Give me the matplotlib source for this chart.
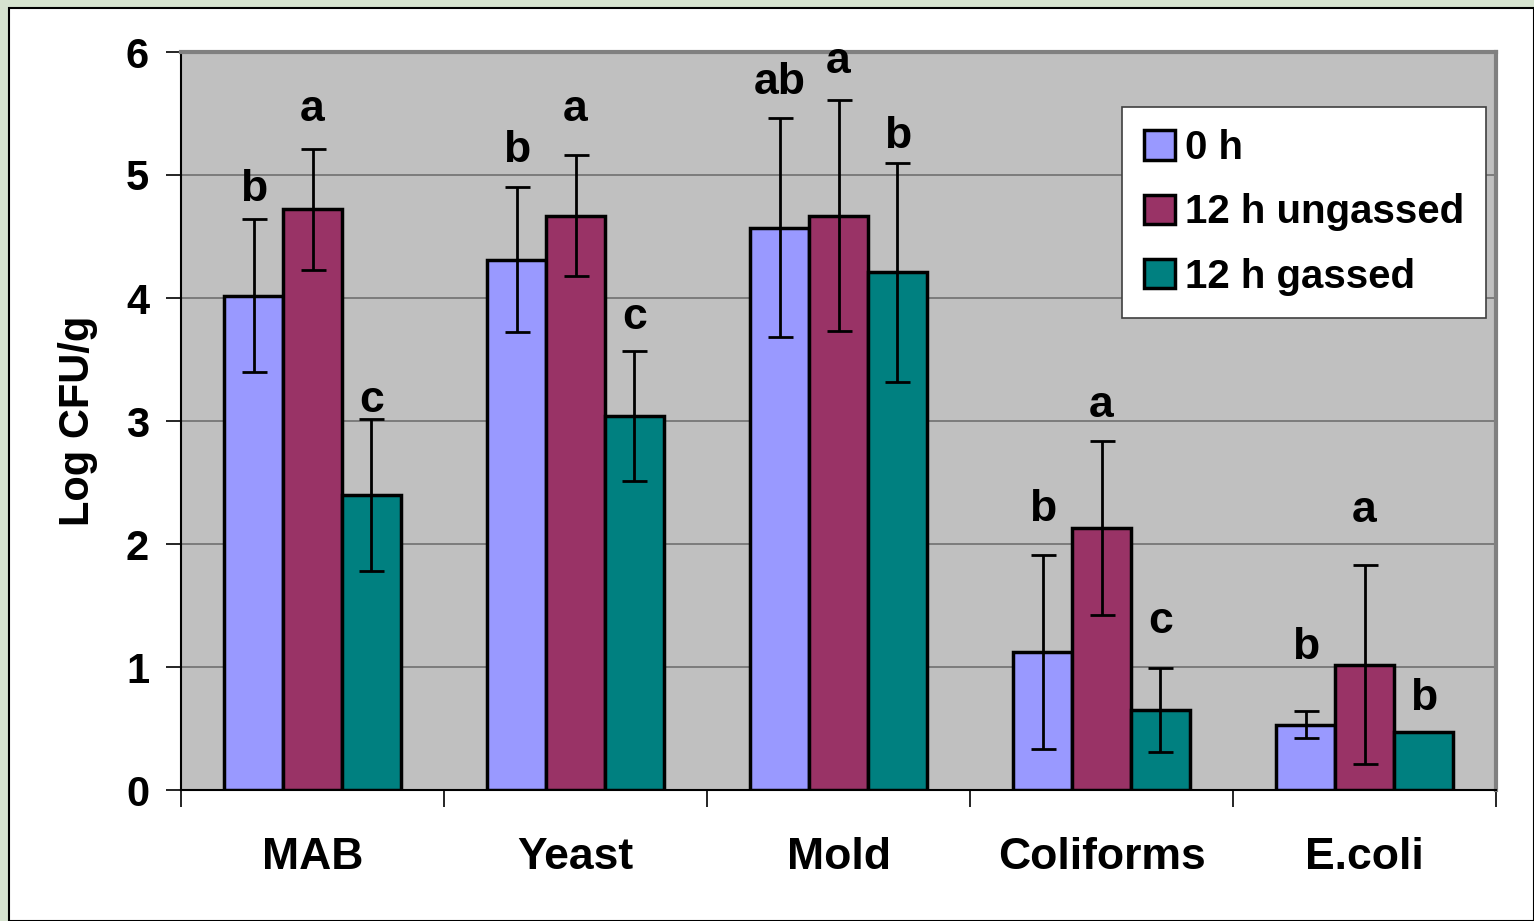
import numpy as np
import matplotlib.pyplot as plt
from matplotlib.patches import Rectangle

# dados
categorias = ['MAB', 'Yeast', 'Mold', 'Coliforms', 'E.coli']
series = ['0 h', '12 h ungassed', '12 h gassed']

media_0h = [4.02, 4.31, 4.57, 1.12, 0.53]
media_ung = [4.72, 4.67, 4.67, 2.13, 1.02]
media_gas = [2.40, 3.04, 4.21, 0.65, 0.47]

erro_0h = [0.62, 0.59, 0.89, 0.79, 0.11]
erro_ung = [0.49, 0.49, 0.94, 0.71, 0.81]
erro_gas = [0.62, 0.53, 0.89, 0.34, 0.0]

letras_0h = ['b', 'b', 'ab', 'b', 'b']
letras_ung = ['a', 'a', 'a', 'a', 'a']
letras_gas = ['c', 'c', 'b', 'c', 'b']

# altura das letras
ylet_0h = [4.88, 5.20, 5.75, 2.28, 1.16]
ylet_ung = [5.53, 5.53, 5.92, 3.13, 2.27]
ylet_gas = [3.17, 3.84, 5.31, 1.37, 0.74]

cores = ['#9999FF', '#993366', '#008080']

plt.rcParams['font.family'] = ['Liberation Sans', 'DejaVu Sans']
plt.rcParams['font.weight'] = 'bold'

fig = plt.figure(figsize=(15.34, 9.21), dpi=100, facecolor='#d6e3cf')
# caixa branca do slide
fig.patches.append(Rectangle((9 / 1534, 0), 1 - 9 / 1534, 1 - 8 / 921,
                             transform=fig.transFigure, facecolor='white',
                             edgecolor='black', linewidth=1.5, zorder=-10))

ax = fig.add_axes([181 / 1534, 1 - 790 / 921, (1496 - 181) / 1534, (790 - 52) / 921])
ax.set_facecolor('#C0C0C0')

x = np.arange(len(categorias))
w = 0.224
medias = [media_0h, media_ung, media_gas]
erros = [erro_0h, erro_ung, erro_gas]
letras = [letras_0h, letras_ung, letras_gas]
ylets = [ylet_0h, ylet_ung, ylet_gas]

for i in range(3):
    pos = x + (i - 1) * w
    ax.bar(pos, medias[i], w, color=cores[i], edgecolor='black', linewidth=2.5,
           label=series[i], zorder=3)
    ax.errorbar(pos, medias[i], yerr=erros[i], fmt='none', ecolor='black',
                elinewidth=2, capsize=9, capthick=2, zorder=4)
    for p, l, yl in zip(pos, letras[i], ylets[i]):
        ax.text(p, yl, l, ha='center', va='center', fontsize=32, fontweight='bold', zorder=5)

ax.set_xlim(-0.5, len(categorias) - 0.5)
ax.set_ylim(0, 6)
ax.set_yticks(range(7))
ax.yaxis.grid(True, color='#707070', linewidth=1.2, zorder=1)
ax.set_axisbelow(True)

ax.set_xticks(x)
ax.set_xticklabels(categorias, fontsize=32, fontweight='bold')
ax.set_xticks(np.arange(-0.5, len(categorias)), minor=True)
ax.tick_params(axis='x', which='major', length=0, pad=34)
ax.tick_params(axis='x', which='minor', length=12, width=1.2, direction='out')
ax.tick_params(axis='y', length=11, width=1.2, labelsize=30, pad=12)
for t in ax.get_yticklabels():
    t.set_fontweight('bold')

ax.set_ylabel('Log CFU/g', fontsize=30, fontweight='bold', labelpad=20)

ax.spines['left'].set_color('black')
ax.spines['bottom'].set_color('black')
ax.spines['left'].set_linewidth(1.5)
ax.spines['bottom'].set_linewidth(1.5)
ax.spines['top'].set_color('#808080')
ax.spines['right'].set_color('#808080')
ax.spines['top'].set_linewidth(3)
ax.spines['right'].set_linewidth(3)

leg = ax.legend(loc='upper right', bbox_to_anchor=(1486 / 1534, 1 - 107 / 921),
                bbox_transform=fig.transFigure, frameon=True, borderaxespad=0,
                fancybox=False, handlelength=0.75, handleheight=0.75,
                handletextpad=0.25, labelspacing=0.65, borderpad=0.55,
                prop={'weight': 'bold', 'size': 29})
leg.get_frame().set_edgecolor('#404040')
leg.get_frame().set_linewidth(1.2)
leg.get_frame().set_alpha(1)
for h in leg.legend_handles:
    h.set_linewidth(2.5)

fig.savefig('out.png', dpi=100, facecolor=fig.get_facecolor())
